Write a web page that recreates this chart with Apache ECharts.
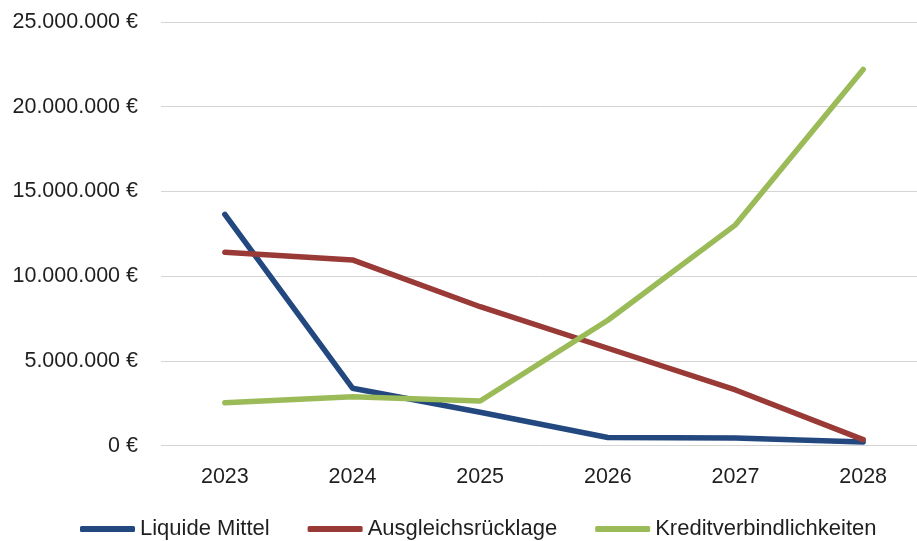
<!DOCTYPE html>
<html>
<head>
<meta charset="utf-8">
<script src="https://cdn.jsdelivr.net/npm/echarts@6/dist/echarts.min.js"></script>
<style>html,body{margin:0;padding:0;background:#fff;}#c{width:917px;height:541px;}</style>
</head>
<body>
<div id="c"></div>
<script>
const categories = ['2023', '2024', '2025', '2026', '2027', '2028'];
const liquideMittel = [13650000, 3390000, 1970000, 480000, 450000, 220000];
const ausgleichsruecklage = [11420000, 10960000, 8200000, 5750000, 3290000, 360000];
const kreditverbindlichkeiten = [2540000, 2890000, 2640000, 7400000, 13030000, 22200000];
const seriesNames = ['Liquide Mittel', 'Ausgleichsrücklage', 'Kreditverbindlichkeiten'];

function fmt(v) {
  const s = Math.round(v).toString().replace(/\B(?=(\d{3})+(?!\d))/g, '.');
  return s + ' €';
}

const chart = echarts.init(document.getElementById('c'));
const font = '"Liberation Sans", Arial, sans-serif';
const colors = ['#23487f', '#993a37', '#9bbb59'];
chart.setOption({
  animation: false,
  color: colors,
  grid: { left: 161, right: -10, top: 22, bottom: 95.3, containLabel: false, outerBoundsMode: 'none' },
  xAxis: {
    type: 'category',
    data: categories,
    boundaryGap: true,
    axisLine: { show: false },
    axisTick: { show: false },
    axisLabel: { fontFamily: font, fontSize: 21.5, color: '#1f1f1f', margin: 20 }
  },
  yAxis: {
    type: 'value',
    min: 0, max: 25000000, interval: 5000000,
    axisLine: { show: false },
    axisTick: { show: false },
    splitLine: { lineStyle: { color: '#d4d4d4', width: 1 } },
    axisLabel: { fontFamily: font, fontSize: 21.5, color: '#1f1f1f', margin: 23, formatter: fmt }
  },
  legend: {
    left: 80, top: 518, padding: 0,
    icon: 'roundRect',
    itemWidth: 55, itemHeight: 6, itemGap: 38,
    textStyle: { fontFamily: font, fontSize: 22, color: '#1f1f1f' },
    data: seriesNames
  },
  series: [
    { name: seriesNames[0], type: 'line', data: liquideMittel, symbol: 'none', lineStyle: { width: 5.5, cap: 'round', join: 'round' } },
    { name: seriesNames[1], type: 'line', data: ausgleichsruecklage, symbol: 'none', lineStyle: { width: 5.5, cap: 'round', join: 'round' } },
    { name: seriesNames[2], type: 'line', data: kreditverbindlichkeiten, symbol: 'none', lineStyle: { width: 5.5, cap: 'round', join: 'round' } }
  ]
});
</script>
</body>
</html>
